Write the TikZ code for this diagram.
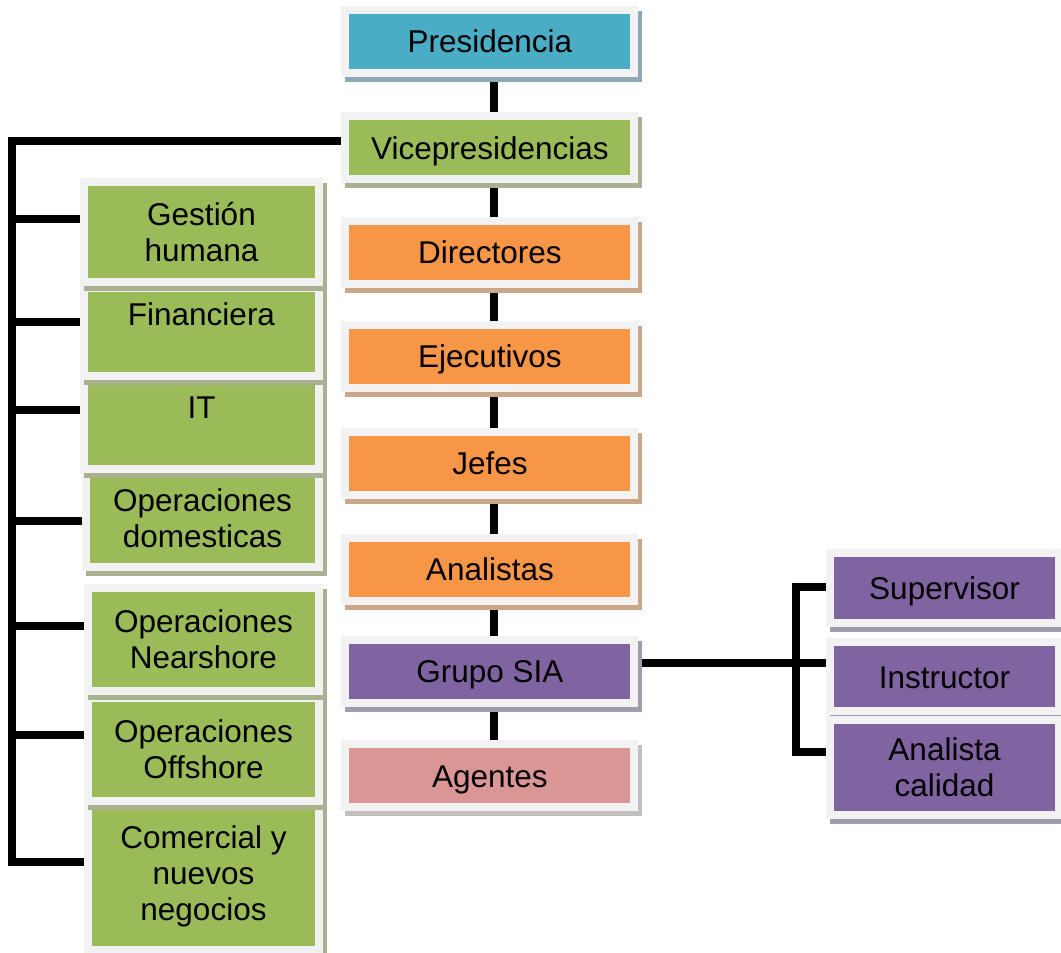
\documentclass[tikz,border=0pt]{standalone}
\usepackage{fontspec}
\setmainfont{Liberation Sans}
\usetikzlibrary{shadows,calc,backgrounds}

\definecolor{frameC}{HTML}{F2F2F2}
\definecolor{presC}{HTML}{4BACC6}\definecolor{presS}{HTML}{8FA8B6}
\definecolor{greenC}{HTML}{9BBB59}\definecolor{greenS}{HTML}{A9B190}
\definecolor{orangeC}{HTML}{F79646}\definecolor{orangeS}{HTML}{CBA789}
\definecolor{purpleC}{HTML}{8064A2}\definecolor{purpleS}{HTML}{A29BAA}
\definecolor{pinkC}{HTML}{D99694}\definecolor{pinkS}{HTML}{C2BFBF}

\tikzset{
  orgbox/.style n args={4}{
    rectangle, fill=frameC, minimum width=#3, minimum height=#4,
    inner sep=0pt, outer sep=0pt,
    drop shadow={shadow xshift=4pt, shadow yshift=-5pt, fill=#2, opacity=1},
    path picture={\fill[#1] ($(path picture bounding box.south west)+(8pt,8pt)$) rectangle ($(path picture bounding box.north east)+(-8pt,-8pt)$);},
    font=\fontsize{31.5}{36}\selectfont, align=center, text=black},
  oneline/.style={text height=23pt, text depth=0pt},
  topline/.style={text height=23pt, text depth=37pt},
  conn/.style={line width=8pt, black, line join=miter},
}

\begin{document}
\begin{tikzpicture}[x=1pt,y=-1pt]
\useasboundingbox (0,0) rectangle (1061,953);

% central column
\node[orgbox={presC}{presS}{297pt}{71pt}, oneline] (pres) at (489.9,41) {Presidencia};
\node[orgbox={greenC}{greenS}{297pt}{71pt}, oneline] (vice) at (489.9,147.5) {Vicepresidencias};
\node[orgbox={orangeC}{orangeS}{297pt}{71pt}, oneline] (dir) at (489.9,252) {Directores};
\node[orgbox={orangeC}{orangeS}{297pt}{71pt}, oneline] (eje) at (489.9,356) {Ejecutivos};
\node[orgbox={orangeC}{orangeS}{297pt}{71pt}, oneline] (jef) at (489.9,463) {Jefes};
\node[orgbox={orangeC}{orangeS}{297pt}{71pt}, oneline] (ana) at (489.9,569) {Analistas};
\node[orgbox={purpleC}{purpleS}{297pt}{71pt}, oneline] (sia) at (489.9,671) {Grupo SIA};
\node[orgbox={pinkC}{pinkS}{297pt}{71pt}, oneline] (age) at (489.9,775.5) {Agentes};

% left column (drawn bottom to top)
\node[orgbox={greenC}{greenS}{239pt}{155pt}] (com) at (203.5,876.5) {Comercial y\\nuevos\\negocios};
\node[orgbox={greenC}{greenS}{239pt}{111pt}] (opo) at (203.5,749.5) {Operaciones\\Offshore};
\node[orgbox={greenC}{greenS}{239pt}{111pt}] (opn) at (203.5,639.5) {Operaciones\\Nearshore};
\node[orgbox={greenC}{greenS}{241pt}{106pt}] (opd) at (202.5,518) {Operaciones\\domesticas};
\node[orgbox={greenC}{greenS}{243pt}{96pt}, topline] (it) at (201.5,425) {IT};
\node[orgbox={greenC}{greenS}{243pt}{96pt}, topline] (fin) at (201.5,332) {Financiera};
\node[orgbox={greenC}{greenS}{243pt}{108pt}] (gh) at (201.5,232) {Gestión\\humana};

% right column
\node[orgbox={purpleC}{purpleS}{237pt}{78pt}, oneline] (sup) at (944.5,588) {Supervisor};
\node[orgbox={purpleC}{purpleS}{237pt}{77pt}, oneline] (ins) at (944.5,676.5) {Instructor};
\node[orgbox={purpleC}{purpleS}{237pt}{103pt}] (anc) at (944.5,767.5) {Analista\\calidad};

\coordinate (trunk) at (12,500);
\coordinate (br) at (796,663);

\begin{scope}[on background layer]
\draw[conn] ([xshift=4pt]pres.south) -- ([xshift=4pt]vice.north);
\draw[conn] ([xshift=4pt]vice.south) -- ([xshift=4pt]dir.north);
\draw[conn] ([xshift=4pt]dir.south) -- ([xshift=4pt]eje.north);
\draw[conn] ([xshift=4pt]eje.south) -- ([xshift=4pt]jef.north);
\draw[conn] ([xshift=4pt]jef.south) -- ([xshift=4pt]ana.north);
\draw[conn] ([xshift=4pt]ana.south) -- ([xshift=4pt]sia.north);
\draw[conn] ([xshift=4pt]sia.south) -- ([xshift=4pt]age.north);

\draw[conn] ([yshift=6.5pt]vice.west) -| (trunk) |- ([yshift=14.5pt]com.west);
\draw[conn] ([yshift=13pt]gh.west) -| (trunk);
\draw[conn] ([yshift=10pt]fin.west) -| (trunk);
\draw[conn] ([yshift=15pt]it.west) -| (trunk);
\draw[conn] ([yshift=-3pt]opd.west) -| (trunk);
\draw[conn] ([yshift=13.5pt]opn.west) -| (trunk);
\draw[conn] ([yshift=14.5pt]opo.west) -| (trunk);

\draw[conn] ([yshift=8pt]sia.east) -- (br);
\draw[conn] ([yshift=1pt]sup.west) -| (br);
\draw[conn] ([yshift=13.5pt]ins.west) -| (br);
\draw[conn] ([yshift=15.5pt]anc.west) -| (br);
\end{scope}
\end{tikzpicture}
\end{document}
